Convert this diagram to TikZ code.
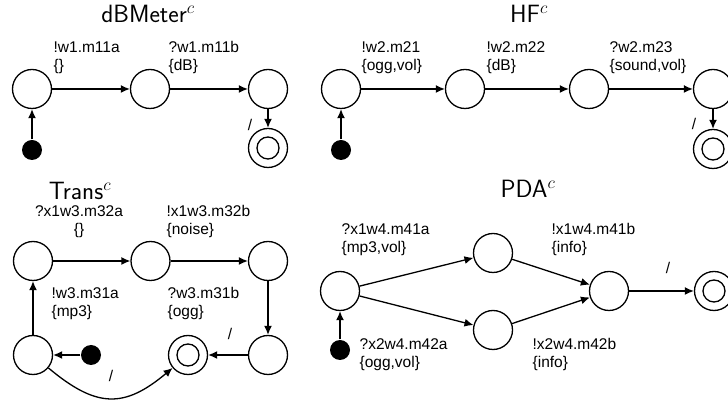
\documentclass[tikz,border=0pt]{standalone}
\usepackage{fontspec}
\usetikzlibrary{positioning,arrows.meta}
\newfontfamily\lblfont{Liberation Sans}
\tikzset{>={Latex[length=9pt,width=8pt]},
    node distance=118pt,
    stateNode/.style={circle,draw,minimum size=39pt,inner sep=0pt},
    finalNode/.style={stateNode,path picture={\draw[line width=1.3pt] (path picture bounding box.center) circle (11pt);}},
    startNode/.style={circle,fill=black,minimum size=20pt,inner sep=0pt},
    edgeLabel/.style={font=\lblfont\fontsize{15.5}{18}\selectfont,align=left,inner sep=0pt},
    titleLabel/.style={font=\sffamily\fontsize{25}{30}\selectfont,inner sep=0pt,anchor=base},
    }

\begin{document}
\begin{tikzpicture}[x=1pt,y=1pt,line width=1.3pt,on grid]
	\useasboundingbox (0,0) rectangle (728,401);
	% dBMeter
	\node[titleLabel] (dbTitle) at (148,378.5) {dBMeter$^c$};
	\node[stateNode] (a1) at (32,312) {};
	\node[stateNode,right=of a1] (a2) {};
	\node[stateNode,right=of a2] (a3) {};
	\node[finalNode,below=59pt of a3] (a4) {};
	\node[startNode,below=61pt of a1] (aDot) {};
	\node[edgeLabel,anchor=north west] (labA1) at (53,360) {!w1.m11a\\\{\}};
	\node[edgeLabel,anchor=north west] (labA2) at (168,360) {?w1.m11b\\\{dB\}};
	\node[edgeLabel] (slA) at (250,276) {/};
	\draw[->] (aDot) -- (a1);
	\draw[->] (a1) -- (a2);
	\draw[->] (a2) -- (a3);
	\draw[->] (a3) -- (a4);
	% HF
	\node[titleLabel] (hfTitle) at (529,378.5) {HF$^c$};
	\node[stateNode] (h1) at (341,312) {};
	\node[stateNode,right=124pt of h1] (h2) {};
	\node[stateNode,right=124pt of h2] (h3) {};
	\node[stateNode,right=124pt of h3] (h4) {};
	\node[finalNode,below=60pt of h4] (h5) {};
	\node[startNode,below=61pt of h1] (hDot) {};
	\node[edgeLabel,anchor=north west] (labH1) at (361,360) {!w2.m21\\\{ogg,vol\}};
	\node[edgeLabel,anchor=north west] (labH2) at (486,360) {!w2.m22\\\{dB\}};
	\node[edgeLabel,anchor=north west] (labH3) at (609,360) {?w2.m23\\\{sound,vol\}};
	\node[edgeLabel] (slH) at (694,277) {/};
	\draw[->] (hDot) -- (h1);
	\draw[->] (h1) -- (h2);
	\draw[->] (h2) -- (h3);
	\draw[->] (h3) -- (h4);
	\draw[->] (h4) -- (h5);
	% Trans
	\node[titleLabel] (trTitle) at (80,201) {Trans$^c$};
	\node[stateNode] (t1) at (33,140) {};
	\node[stateNode,right=117.5pt of t1] (t2) {};
	\node[stateNode,right=117.5pt of t2] (t3) {};
	\node[stateNode,below=94pt of t1] (t4) {};
	\node[stateNode,below=94pt of t3] (t6) {};
	\node[finalNode,left=80pt of t6] (t5) {};
	\node[startNode,right=58pt of t4] (tDot) {};
	\node[edgeLabel,align=center,anchor=north] (labT1) at (79,196) {?x1w3.m32a\\\{\}};
	\node[edgeLabel,anchor=north west] (labT2) at (166,196) {!x1w3.m32b\\\{noise\}};
	\node[edgeLabel,anchor=north west] (labT3) at (51,114) {!w3.m31a\\\{mp3\}};
	\node[edgeLabel,anchor=north west] (labT4) at (167,114) {?w3.m31b\\\{ogg\}};
	\node[edgeLabel] (slT1) at (230,67) {/};
	\node[edgeLabel] (slT2) at (111,25) {/};
	\draw[->] (tDot) -- (t4);
	\draw[->] (t4) -- (t1);
	\draw[->] (t1) -- (t2);
	\draw[->] (t2) -- (t3);
	\draw[->] (t3) -- (t6);
	\draw[->] (t6) -- (t5);
	\draw[->] (t4) to[out=-40,in=-140,looseness=1.3] (t5);
	% PDA
	\node[titleLabel] (pdaTitle) at (528,203) {PDA$^c$};
	\node[stateNode] (p1) at (340,110) {};
	\node[stateNode] (p2) at (493,148) {};
	\node[stateNode] (p3) at (493,71) {};
	\node[stateNode] (p4) at (609,110) {};
	\node[finalNode,right=105pt of p4] (p5) {};
	\node[startNode,below=59pt of p1] (pDot) {};
	\node[edgeLabel,anchor=north west] (labP1) at (341,178) {?x1w4.m41a\\\{mp3,vol\}};
	\node[edgeLabel,anchor=north west] (labP2) at (551,178) {!x1w4.m41b\\\{info\}};
	\node[edgeLabel,anchor=north west] (labP3) at (359,63) {?x2w4.m42a\\\{ogg,vol\}};
	\node[edgeLabel,anchor=north west] (labP4) at (532,63) {!x2w4.m42b\\\{info\}};
	\node[edgeLabel] (slP) at (668,133) {/};
	\draw[->] (pDot) -- (p1);
	\draw[->] (p1) -- (p2);
	\draw[->] (p1) -- (p3);
	\draw[->] (p2) -- (p4);
	\draw[->] (p3) -- (p4);
	\draw[->] (p4) -- (p5);
\end{tikzpicture}
\end{document}
